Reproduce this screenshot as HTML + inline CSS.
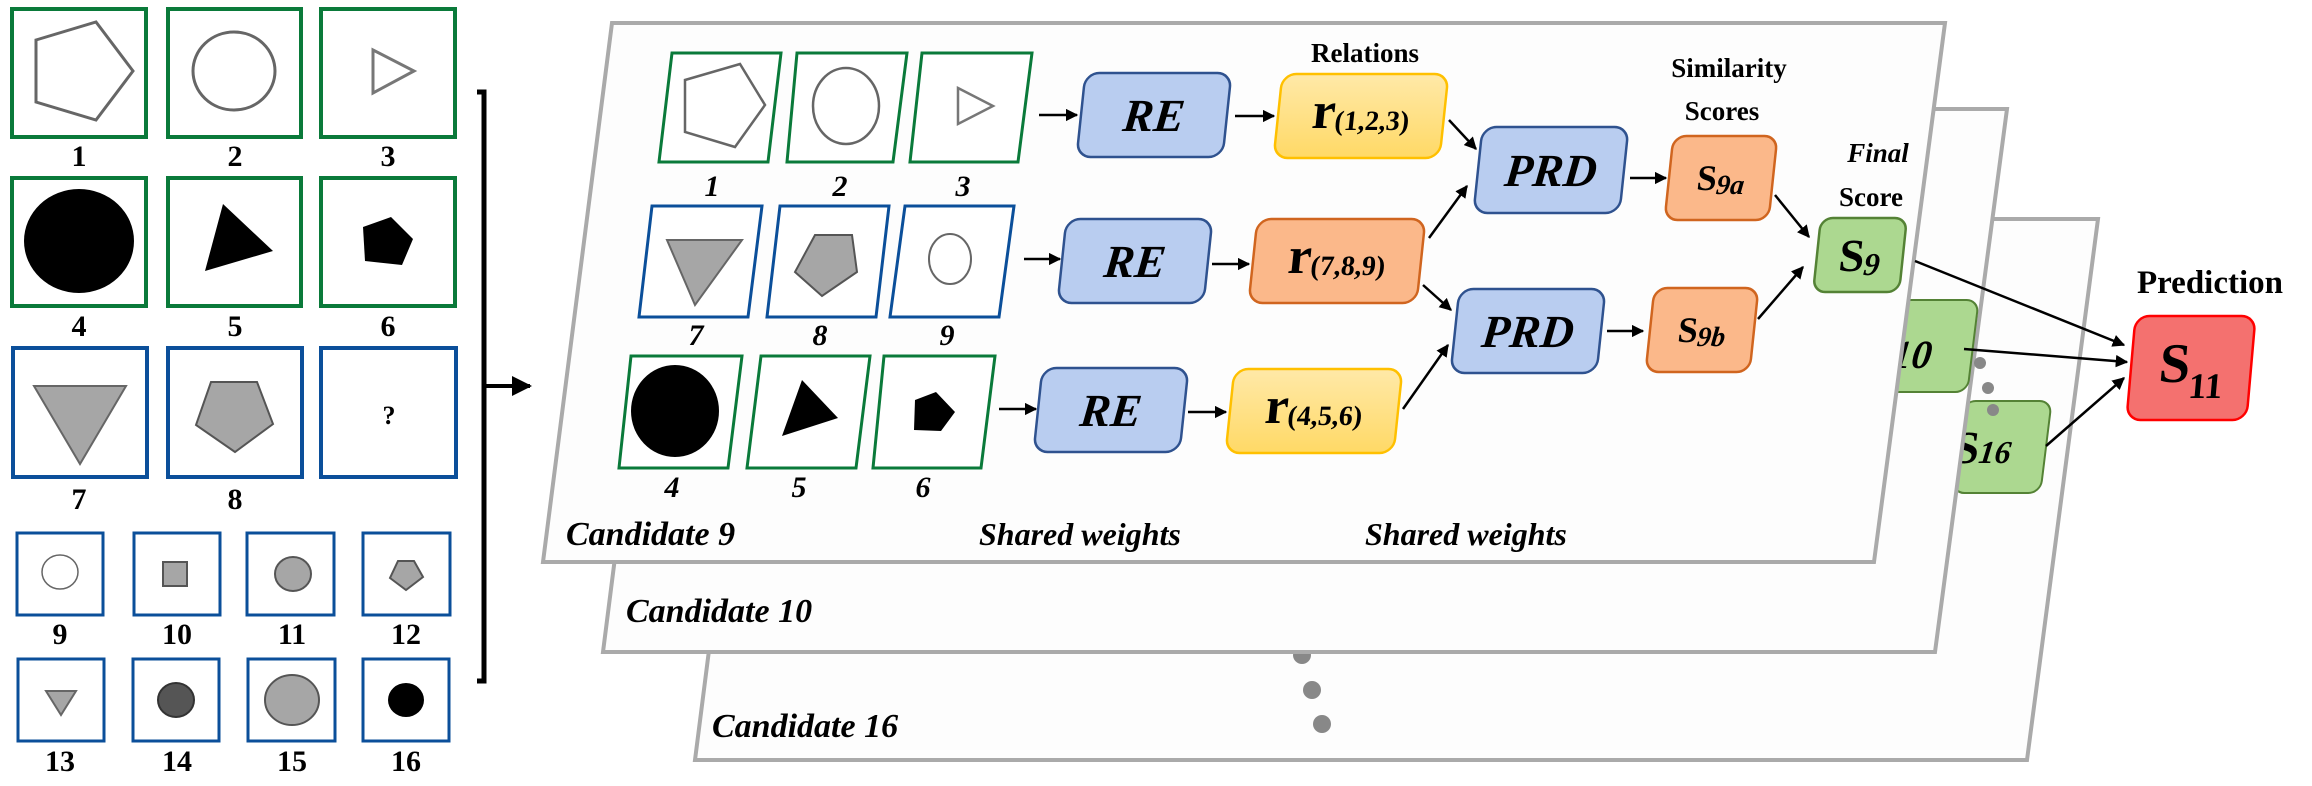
<!DOCTYPE html>
<html><head><meta charset="utf-8"><style>
html,body{margin:0;padding:0;background:#fff;}
svg{display:block;}
.lab{font-family:"Liberation Serif",serif;font-weight:bold;font-size:30px;text-anchor:middle;}
.ital{font-family:"Liberation Serif",serif;font-weight:bold;font-style:italic;}
.bold{font-family:"Liberation Serif",serif;font-weight:bold;}
</style></head><body>
<svg width="2312" height="786" viewBox="0 0 2312 786" xmlns="http://www.w3.org/2000/svg">
<defs>
<marker id="ah" viewBox="0 0 10 10" refX="9" refY="5" markerWidth="5" markerHeight="5" orient="auto" markerUnits="strokeWidth"><path d="M0,0 L10,5 L0,10 z" fill="#000"/></marker>
<linearGradient id="yel" x1="0" y1="0" x2="0" y2="1"><stop offset="0" stop-color="#ffe9a8"/><stop offset="1" stop-color="#ffd966"/></linearGradient>
</defs>

<!-- LEFT GRID -->
<g fill="none" stroke="#0a7a3a" stroke-width="4">
<rect x="12" y="9" width="134" height="128"/><rect x="168" y="9" width="133" height="128"/><rect x="321" y="9" width="134" height="128"/>
<rect x="12" y="178" width="134" height="128"/><rect x="168" y="178" width="133" height="128"/><rect x="321" y="178" width="134" height="128"/>
</g>
<g fill="none" stroke="#0b4f9a" stroke-width="4">
<rect x="13" y="348" width="134" height="129"/><rect x="168" y="348" width="134" height="129"/><rect x="321" y="348" width="135" height="129"/>
</g>
<g fill="none" stroke="#0b4f9a" stroke-width="3">
<rect x="17" y="533" width="86" height="82"/><rect x="134" y="533" width="86" height="82"/><rect x="247" y="533" width="87" height="82"/><rect x="363" y="533" width="87" height="82"/>
<rect x="18" y="659" width="86" height="82"/><rect x="133" y="659" width="86" height="82"/><rect x="248" y="659" width="87" height="82"/><rect x="363" y="659" width="86" height="82"/>
</g>
<polygon points="36,40 96,22 133,71 96,120 36,102" fill="none" stroke="#666" stroke-width="3"/>
<ellipse cx="234" cy="71" rx="41" ry="39" fill="none" stroke="#666" stroke-width="3"/>
<polygon points="373,50 414,71 373,93" fill="none" stroke="#777" stroke-width="3"/>
<ellipse cx="79" cy="241" rx="55" ry="52" fill="#000"/>
<polygon points="223,204 273,251 205,271" fill="#000"/>
<polygon points="363,227 391,217 413,239 402,265 365,261" fill="#000"/>
<polygon points="34,386 126,386 80,464" fill="#a6a6a6" stroke="#666" stroke-width="2"/>
<polygon points="211,382 257,382 273,424 235,452 196,425" fill="#a6a6a6" stroke="#555" stroke-width="2"/>
<text x="389" y="424" class="bold" font-size="26" text-anchor="middle">?</text>
<ellipse cx="60" cy="572" rx="18" ry="17" fill="#fff" stroke="#666" stroke-width="1.5"/>
<rect x="163" y="562" width="24" height="24" fill="#a6a6a6" stroke="#555" stroke-width="2"/>
<ellipse cx="293" cy="574" rx="18" ry="17" fill="#a6a6a6" stroke="#555" stroke-width="2"/>
<polygon points="398,561 414,561 423,577 406,590 390,578" fill="#a6a6a6" stroke="#555" stroke-width="2"/>
<polygon points="46,691 76,691 61,715" fill="#a6a6a6" stroke="#666" stroke-width="2"/>
<ellipse cx="176" cy="700" rx="18" ry="17" fill="#555" stroke="#333" stroke-width="2"/>
<ellipse cx="292" cy="700" rx="27" ry="25" fill="#a6a6a6" stroke="#555" stroke-width="2"/>
<ellipse cx="406" cy="700" rx="18" ry="17" fill="#000"/>
<g class="lab">
<text x="79" y="166">1</text><text x="235" y="166">2</text><text x="388" y="166">3</text>
<text x="79" y="336">4</text><text x="235" y="336">5</text><text x="388" y="336">6</text>
<text x="79" y="509">7</text><text x="235" y="509">8</text>
<text x="60" y="644">9</text><text x="177" y="644">10</text><text x="292" y="644">11</text><text x="406" y="644">12</text>
<text x="60" y="771">13</text><text x="177" y="771">14</text><text x="292" y="771">15</text><text x="406" y="771">16</text>
</g>
<path d="M477,92 H484 V681 H477" fill="none" stroke="#000" stroke-width="5"/>
<line x1="484" y1="386" x2="530" y2="386" stroke="#000" stroke-width="4" marker-end="url(#ah)"/>

<!-- PANELS -->
<polygon points="764,219 2098,219 2027,760 695,760" fill="#fdfdfd" stroke="#aaa" stroke-width="4"/>
<circle cx="1302" cy="655" r="9" fill="#888"/>
<circle cx="1312" cy="690" r="9" fill="#888"/>
<circle cx="1322" cy="724" r="9" fill="#888"/>
<text x="712" y="737" class="ital" font-size="34">Candidate 16</text>
<g transform="translate(2002,447) skewX(-7)"><rect x="-44" y="-46" width="88" height="92" rx="12" fill="#acd890" stroke="#548235" stroke-width="2"/>
<text x="-48" y="16" class="bold" font-size="46">S<tspan font-size="32" font-style="italic">16</tspan></text></g>

<polygon points="672,109 2007,109 1935,652 603,652" fill="#fdfdfd" stroke="#aaa" stroke-width="4"/>
<circle cx="1980" cy="363" r="6" fill="#888"/>
<circle cx="1988" cy="388" r="6" fill="#888"/>
<circle cx="1993" cy="410" r="6" fill="#888"/>
<text x="626" y="622" class="ital" font-size="34">Candidate 10</text>
<g transform="translate(1929,346) skewX(-7)"><rect x="-44" y="-46" width="88" height="92" rx="12" fill="#acd890" stroke="#548235" stroke-width="2"/>
<text x="-36" y="22" class="ital" font-size="40">10</text></g>

<polygon points="612,23 1945,23 1874,562 543,562" fill="#fdfdfd" stroke="#aaa" stroke-width="4"/>
<text x="566" y="545" class="ital" font-size="34">Candidate 9</text>
<text x="979" y="545" class="ital" font-size="32">Shared weights</text>
<text x="1365" y="545" class="ital" font-size="32">Shared weights</text>

<!-- panel images -->
<g fill="#fff" stroke-width="3">
<polygon points="672,53 781,53 768,162 659,162" stroke="#0a7a3a"/>
<polygon points="797,53 907,53 893,162 787,162" stroke="#0a7a3a"/>
<polygon points="922,53 1032,53 1018,162 910,162" stroke="#0a7a3a"/>
<polygon points="652,206 762,206 748,317 639,317" stroke="#0b4f9a"/>
<polygon points="780,206 889,206 876,317 767,317" stroke="#0b4f9a"/>
<polygon points="905,206 1014,206 999,317 890,317" stroke="#0b4f9a"/>
<polygon points="631,356 742,356 728,468 619,468" stroke="#0a7a3a"/>
<polygon points="761,356 870,356 856,468 747,468" stroke="#0a7a3a"/>
<polygon points="884,356 995,356 981,468 873,468" stroke="#0a7a3a"/>
</g>
<polygon points="685,80 740,64 765,105 735,147 685,132" fill="none" stroke="#666" stroke-width="2.5"/>
<ellipse cx="846" cy="106" rx="33" ry="38" fill="none" stroke="#666" stroke-width="2.5"/>
<polygon points="958,88 993,106 958,124" fill="none" stroke="#777" stroke-width="2.5"/>
<polygon points="667,240 742,240 695,305" fill="#a6a6a6" stroke="#666" stroke-width="2"/>
<polygon points="815,235 852,235 857,272 822,296 795,272" fill="#a6a6a6" stroke="#555" stroke-width="2"/>
<ellipse cx="950" cy="259" rx="21" ry="25" fill="#fff" stroke="#666" stroke-width="2"/>
<ellipse cx="675" cy="411" rx="44" ry="46" fill="#000"/>
<polygon points="802,380 838,418 782,436" fill="#000"/>
<polygon points="915,400 936,392 955,412 941,431 914,430" fill="#000"/>
<g class="ital" font-size="30" text-anchor="middle">
<text x="712" y="196">1</text><text x="840" y="196">2</text><text x="963" y="196">3</text>
<text x="696" y="345">7</text><text x="820" y="345">8</text><text x="947" y="345">9</text>
<text x="672" y="497">4</text><text x="799" y="497">5</text><text x="923" y="497">6</text>
</g>

<!-- labels -->
<text x="1365" y="62" class="bold" font-size="27" text-anchor="middle">Relations</text>
<text x="1729" y="77" class="bold" font-size="27" text-anchor="middle">Similarity</text>
<text x="1722" y="120" class="bold" font-size="27" text-anchor="middle">Scores</text>
<text x="1878" y="162" class="ital" font-size="27" text-anchor="middle">Final</text>
<text x="1871" y="206" class="bold" font-size="27" text-anchor="middle">Score</text>
<text x="2210" y="293" class="bold" font-size="33" text-anchor="middle">Prediction</text>

<!-- nodes -->
<g>
<g transform="translate(1154,115) skewX(-6)"><rect x="-73" y="-42" width="146" height="84" rx="14" fill="#b9cdf0" stroke="#2f528f" stroke-width="2.5"/><text x="0" y="16" class="ital" font-size="46" text-anchor="middle">RE</text></g>
<g transform="translate(1135,261) skewX(-6)"><rect x="-73" y="-42" width="146" height="84" rx="14" fill="#b9cdf0" stroke="#2f528f" stroke-width="2.5"/><text x="0" y="16" class="ital" font-size="46" text-anchor="middle">RE</text></g>
<g transform="translate(1111,410) skewX(-6)"><rect x="-73" y="-42" width="146" height="84" rx="14" fill="#b9cdf0" stroke="#2f528f" stroke-width="2.5"/><text x="0" y="16" class="ital" font-size="46" text-anchor="middle">RE</text></g>

<g transform="translate(1361,116) skewX(-6)"><rect x="-83" y="-42" width="166" height="84" rx="14" fill="url(#yel)" stroke="#ffc000" stroke-width="2.5"/><text x="0" y="12" class="bold" font-size="52" text-anchor="middle">r<tspan font-size="28" dy="2">(1,2,3)</tspan></text></g>
<g transform="translate(1337,261) skewX(-6)"><rect x="-84" y="-42" width="168" height="84" rx="14" fill="#fbb88a" stroke="#d0651f" stroke-width="2.5"/><text x="0" y="12" class="bold" font-size="52" text-anchor="middle">r<tspan font-size="28" dy="2">(7,8,9)</tspan></text></g>
<g transform="translate(1314,411) skewX(-6)"><rect x="-84" y="-42" width="168" height="84" rx="14" fill="url(#yel)" stroke="#ffc000" stroke-width="2.5"/><text x="0" y="12" class="bold" font-size="52" text-anchor="middle">r<tspan font-size="28" dy="2">(4,5,6)</tspan></text></g>

<g transform="translate(1551,170) skewX(-6)"><rect x="-73" y="-43" width="146" height="86" rx="14" fill="#b9cdf0" stroke="#2f528f" stroke-width="2.5"/><text x="0" y="16" class="ital" font-size="46" text-anchor="middle">PRD</text></g>
<g transform="translate(1528,331) skewX(-6)"><rect x="-73" y="-42" width="146" height="84" rx="14" fill="#b9cdf0" stroke="#2f528f" stroke-width="2.5"/><text x="0" y="16" class="ital" font-size="46" text-anchor="middle">PRD</text></g>

<g transform="translate(1721,178) skewX(-6)"><rect x="-52" y="-42" width="104" height="84" rx="13" fill="#fbb88a" stroke="#d0651f" stroke-width="2.5"/><text x="0" y="12" class="bold" font-size="36" text-anchor="middle">S<tspan font-size="28" font-style="italic" dy="4">9a</tspan></text></g>
<g transform="translate(1702,330) skewX(-6)"><rect x="-52" y="-42" width="104" height="84" rx="13" fill="#fbb88a" stroke="#d0651f" stroke-width="2.5"/><text x="0" y="12" class="bold" font-size="36" text-anchor="middle">S<tspan font-size="28" font-style="italic" dy="4">9b</tspan></text></g>

<g transform="translate(1860,255) skewX(-6)"><rect x="-43" y="-37" width="86" height="74" rx="12" fill="#acd890" stroke="#548235" stroke-width="2.5"/><text x="0" y="16" class="bold" font-size="46" text-anchor="middle">S<tspan font-size="32" font-style="italic" dy="4">9</tspan></text></g>

<g transform="translate(2191,368) skewX(-5)"><rect x="-60" y="-52" width="120" height="104" rx="14" fill="#f4716f" stroke="#ff0000" stroke-width="2.5"/><text x="-32" y="14" class="bold" font-size="56">S<tspan font-size="36" dy="16">11</tspan></text></g>
</g>

<!-- arrows -->
<g stroke="#000" stroke-width="2.5" fill="none" marker-end="url(#ah)">
<line x1="1039" y1="115" x2="1077" y2="115"/>
<line x1="1235" y1="116" x2="1274" y2="116"/>
<line x1="1024" y1="259" x2="1060" y2="259"/>
<line x1="1212" y1="264" x2="1249" y2="264"/>
<line x1="999" y1="409" x2="1036" y2="409"/>
<line x1="1188" y1="412" x2="1226" y2="412"/>
<line x1="1449" y1="120" x2="1476" y2="149"/>
<line x1="1429" y1="238" x2="1467" y2="186"/>
<line x1="1423" y1="285" x2="1451" y2="310"/>
<line x1="1403" y1="409" x2="1448" y2="345"/>
<line x1="1630" y1="178" x2="1666" y2="178"/>
<line x1="1607" y1="331" x2="1643" y2="331"/>
<line x1="1775" y1="195" x2="1809" y2="237"/>
<line x1="1758" y1="319" x2="1803" y2="267"/>
<line x1="1915" y1="261" x2="2124" y2="345"/>
<line x1="1964" y1="349" x2="2127" y2="362"/>
<line x1="2046" y1="446" x2="2124" y2="378"/>
</g>
</svg>
</body></html>
